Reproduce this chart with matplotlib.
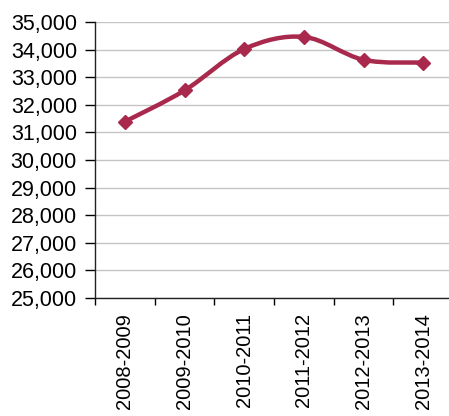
import matplotlib.pyplot as plt
from matplotlib.path import Path
from matplotlib.patches import PathPatch
from matplotlib.ticker import FuncFormatter

plt.rcParams["font.family"] = ["Liberation Sans", "DejaVu Sans"]

years = ["2008-2009", "2009-2010", "2010-2011", "2011-2012", "2012-2013", "2013-2014"]
values = [31390, 32520, 34020, 34460, 33630, 33530]

LINE = "#A8294B"

fig = plt.figure(figsize=(4.49, 4.16), dpi=100)
ax = fig.add_axes([95 / 449, 118 / 416, 358 / 449, 276 / 416])

# smoothed curve (Catmull-Rom as cubic Bezier, like Excel's smoothed line)
xs = list(range(len(values)))
pts = list(zip(xs, values))
verts = [pts[0]]
codes = [Path.MOVETO]
for i in range(len(pts) - 1):
    p0 = pts[i - 1] if i > 0 else pts[i]
    p1 = pts[i]
    p2 = pts[i + 1]
    p3 = pts[i + 2] if i + 2 < len(pts) else pts[i + 1]
    c1 = (p1[0] + (p2[0] - p0[0]) / 6, p1[1] + (p2[1] - p0[1]) / 6)
    c2 = (p2[0] - (p3[0] - p1[0]) / 6, p2[1] - (p3[1] - p1[1]) / 6)
    verts += [c1, c2, p2]
    codes += [Path.CURVE4] * 3
ax.add_patch(PathPatch(Path(verts, codes), facecolor="none", edgecolor=LINE,
                       lw=3.2, capstyle="round", joinstyle="round", zorder=3))
ax.plot(xs, values, linestyle="none", marker="D", markersize=7, color=LINE, zorder=4)

ax.set_xlim(-0.5, len(years) - 0.5)
ax.set_ylim(25000, 35000)
ax.set_yticks(range(25000, 35001, 1000))
ax.yaxis.set_major_formatter(FuncFormatter(lambda v, p: f"{int(v):,}"))
ax.grid(axis="y", color="#C4C4C4", lw=1)
ax.set_axisbelow(True)

ax.set_xticks(xs)
ax.set_xticklabels(years, rotation=90)
ax.set_xticks([i - 0.5 for i in range(len(years) + 1)], minor=True)
ax.tick_params(axis="x", which="major", length=0, pad=11, labelsize=14.5)
ax.tick_params(axis="x", which="minor", length=5, direction="out", width=1)
ax.tick_params(axis="y", length=7, width=1, pad=6, labelsize=15.5)

for s in ["top", "right"]:
    ax.spines[s].set_visible(False)
for s in ["left", "bottom"]:
    ax.spines[s].set_color("#222222")
    ax.spines[s].set_linewidth(1)

fig.savefig("out.png", dpi=100)
